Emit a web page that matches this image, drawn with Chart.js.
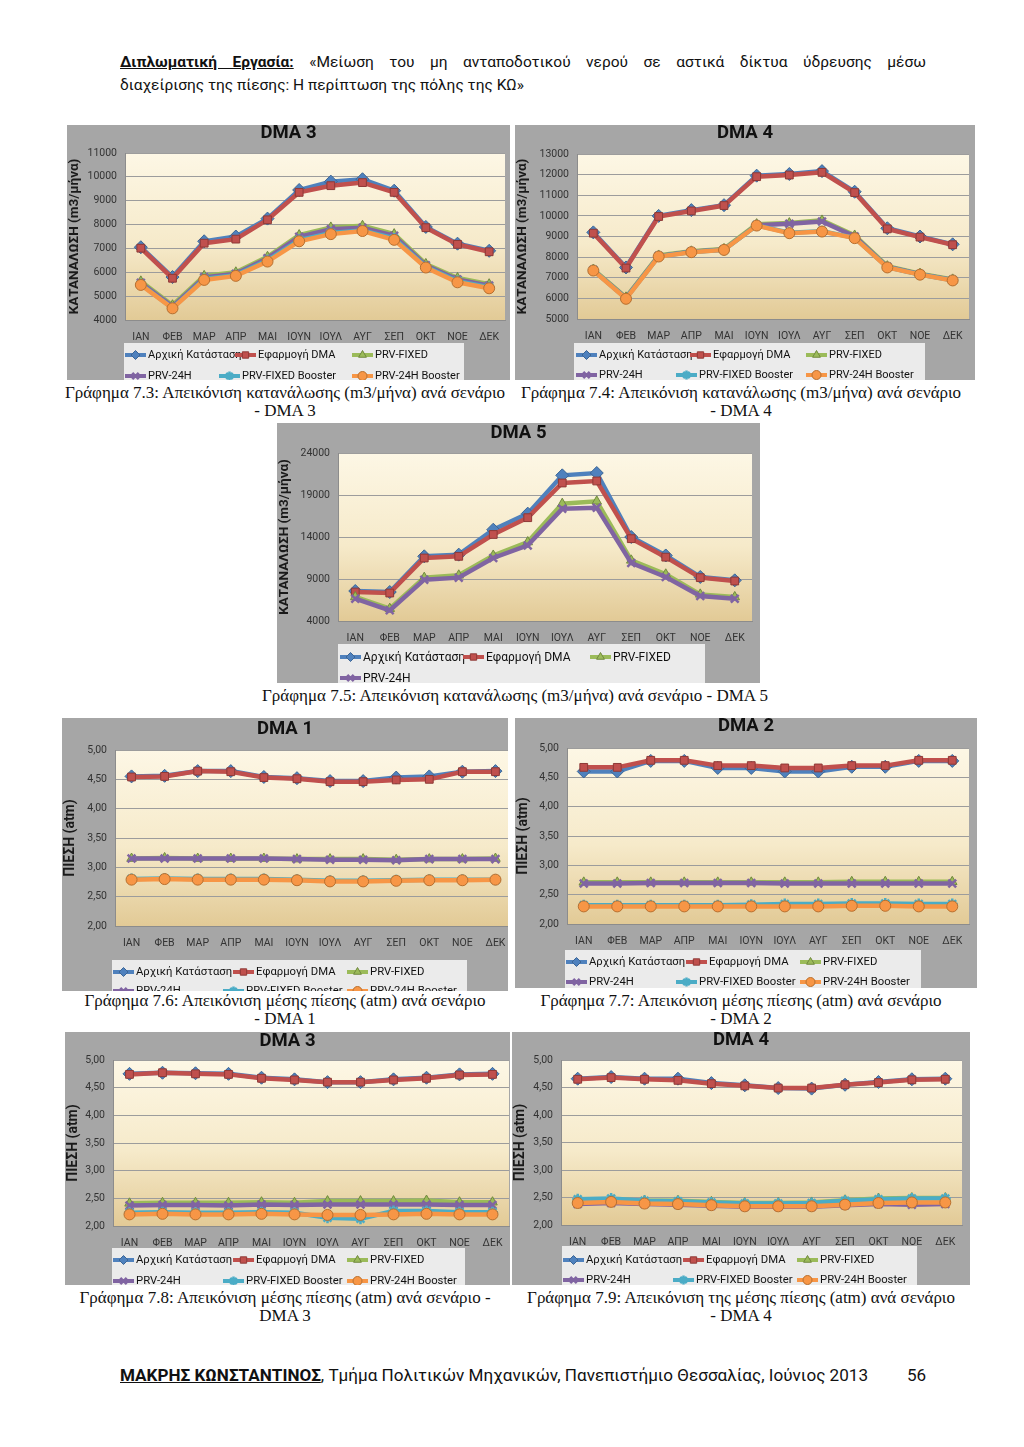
<!DOCTYPE html>
<html lang="el">
<head>
<meta charset="utf-8">
<script src="https://cdn.jsdelivr.net/npm/chart.js@4.4.1/dist/chart.umd.min.js"></script>
<style>
  body { margin: 0; background: #fff; }
  #page { position: relative; width: 1024px; height: 1447px; background: #fff; font-family: Roboto, 'Noto Sans', sans-serif; color: #111; overflow: hidden; }
  .box { position: absolute; overflow: hidden; background: #a6a6a6; }
  .box canvas { position: absolute; left: 0; top: 0; }
  .cap { position: absolute; font-family: 'Liberation Serif', 'DejaVu Serif', serif; font-size: 17px; line-height: 18px; text-align: center; white-space: nowrap; }
  .head { position: absolute; left: 120px; width: 806px; font-size: 15.5px; line-height: 23px; }
  .l1 { text-align: justify; text-align-last: justify; }
  .foot { position: absolute; top: 1365px; font-size: 17.1px; white-space: nowrap; }
</style>
</head>
<body>
<div id="page">
  <div class="head l1" style="top:51px"><b><u>Διπλωματική Εργασία:</u></b> «Μείωση του μη ανταποδοτικού νερού σε αστικά δίκτυα ύδρευσης μέσω</div>
  <div class="head" style="top:74px">διαχείρισης της πίεσης: Η περίπτωση της πόλης της ΚΩ»</div>

  <div class="cap" style="left:55px;width:460px;top:384px">Γράφημα 7.3: Απεικόνιση κατανάλωσης (m3/μήνα) ανά σενάριο<br>- DMA 3</div>
  <div class="cap" style="left:511px;width:460px;top:384px">Γράφημα 7.4: Απεικόνιση κατανάλωσης (m3/μήνα) ανά σενάριο<br>- DMA 4</div>
  <div class="cap" style="left:262px;width:500px;top:687px">Γράφημα 7.5: Απεικόνιση κατανάλωσης (m3/μήνα) ανά σενάριο - DMA 5</div>
  <div class="cap" style="left:55px;width:460px;top:992px">Γράφημα 7.6: Απεικόνιση μέσης πίεσης (atm) ανά σενάριο<br>- DMA 1</div>
  <div class="cap" style="left:511px;width:460px;top:992px">Γράφημα 7.7: Απεικόνιση μέσης πίεσης (atm) ανά σενάριο<br>- DMA 2</div>
  <div class="cap" style="left:55px;width:460px;top:1289px">Γράφημα 7.8: Απεικόνιση μέσης πίεσης (atm) ανά σενάριο -<br>DMA 3</div>
  <div class="cap" style="left:511px;width:460px;top:1289px">Γράφημα 7.9: Απεικόνιση της μέσης πίεσης (atm) ανά σενάριο<br>- DMA 4</div>

  <div class="foot" style="left:120px"><b><u>ΜΑΚΡΗΣ ΚΩΝΣΤΑΝΤΙΝΟΣ</u></b>, Τμήμα Πολιτικών Μηχανικών, Πανεπιστήμιο Θεσσαλίας, Ιούνιος 2013</div>
  <div class="foot" style="left:907px">56</div>
</div>

<script>
const months = ['ΙΑΝ', 'ΦΕΒ', 'ΜΑΡ', 'ΑΠΡ', 'ΜΑΙ', 'ΙΟΥΝ', 'ΙΟΥΛ', 'ΑΥΓ', 'ΣΕΠ', 'ΟΚΤ', 'ΝΟΕ', 'ΔΕΚ'];
const seriesNames = ['Αρχική Κατάσταση', 'Εφαρμογή DMA', 'PRV-FIXED', 'PRV-24H', 'PRV-FIXED Booster', 'PRV-24H Booster'];

// tick labels
const dma3ConsTicks = [4000, 5000, 6000, 7000, 8000, 9000, 10000, 11000];
const dma4ConsTicks = [5000, 6000, 7000, 8000, 9000, 10000, 11000, 12000, 13000];
const dma5ConsTicks = [4000, 9000, 14000, 19000, 24000];
const pressureTicks = [2.00, 2.50, 3.00, 3.50, 4.00, 4.50, 5.00];

// consumption (m3/month) - DMA 3
const dma3ConsInitial = [7050, 5800, 7300, 7500, 8250, 9450, 9800, 9900, 9420, 7900, 7200, 6900];
const dma3ConsDma = [7010, 5750, 7220, 7390, 8200, 9350, 9630, 9760, 9350, 7870, 7170, 6860];
const dma3ConsPrvFixed = [5620, 4620, 5850, 6000, 6650, 7560, 7880, 7950, 7600, 6350, 5760, 5500];
const dma3ConsPrv24h = [5560, 4560, 5790, 5940, 6590, 7490, 7800, 7870, 7530, 6290, 5700, 5440];
const dma3ConsFixedBooster = [5500, 4500, 5720, 5880, 6500, 7350, 7650, 7750, 7420, 6230, 5630, 5370];
const dma3Cons24hBooster = [5470, 4490, 5680, 5850, 6450, 7300, 7600, 7730, 7360, 6200, 5580, 5330];

// consumption - DMA 4
const dma4ConsInitial = [9200, 7500, 10000, 10280, 10520, 11950, 12030, 12170, 11170, 9400, 9000, 8620];
const dma4ConsDma = [9160, 7470, 9970, 10240, 10500, 11900, 11980, 12110, 11130, 9370, 8970, 8600];
const dma4ConsPrvFixed = [7400, 6050, 8080, 8280, 8400, 9600, 9650, 9780, 9050, 7560, 7200, 6920];
const dma4ConsPrv24h = [7370, 6020, 8050, 8260, 8370, 9550, 9620, 9730, 9000, 7530, 7170, 6890];
const dma4ConsFixedBooster = [7360, 6000, 8040, 8250, 8360, 9540, 9180, 9260, 8940, 7510, 7160, 6880];
const dma4Cons24hBooster = [7350, 5980, 8030, 8240, 8350, 9530, 9160, 9240, 8920, 7500, 7150, 6870];

// consumption - DMA 5 (four scenarios only)
const dma5ConsInitial = [7570, 7450, 11700, 11900, 14870, 16780, 21340, 21620, 14000, 11800, 9240, 8840];
const dma5ConsDma = [7450, 7330, 11500, 11700, 14300, 16300, 20430, 20670, 13800, 11600, 9160, 8760];
const dma5ConsPrvFixed = [6860, 5470, 9160, 9440, 11800, 13400, 17970, 18250, 11220, 9560, 7170, 6860];
const dma5ConsPrv24h = [6660, 5270, 8920, 9160, 11500, 13000, 17370, 17490, 10900, 9240, 6980, 6660];

// mean pressure (atm) - DMA 1
const dma1PresInitial = [4.55, 4.56, 4.64, 4.64, 4.54, 4.52, 4.47, 4.47, 4.53, 4.55, 4.63, 4.64];
const dma1PresDma = [4.54, 4.55, 4.64, 4.63, 4.53, 4.51, 4.46, 4.46, 4.49, 4.50, 4.63, 4.63];
const dma1PresPrvFixed = [3.15, 3.16, 3.15, 3.15, 3.15, 3.14, 3.14, 3.14, 3.13, 3.14, 3.14, 3.15];
const dma1PresPrv24h = [3.15, 3.15, 3.15, 3.15, 3.15, 3.14, 3.13, 3.13, 3.12, 3.14, 3.14, 3.14];
const dma1PresFixedBooster = [2.80, 2.81, 2.80, 2.80, 2.80, 2.79, 2.77, 2.77, 2.78, 2.79, 2.79, 2.79];
const dma1Pres24hBooster = [2.79, 2.80, 2.79, 2.79, 2.79, 2.78, 2.76, 2.76, 2.77, 2.78, 2.78, 2.79];

// mean pressure - DMA 2
const dma2PresInitial = [4.60, 4.60, 4.78, 4.78, 4.66, 4.66, 4.60, 4.60, 4.68, 4.68, 4.78, 4.78];
const dma2PresDma = [4.67, 4.67, 4.79, 4.79, 4.70, 4.70, 4.66, 4.66, 4.70, 4.70, 4.79, 4.79];
const dma2PresPrvFixed = [2.71, 2.71, 2.71, 2.71, 2.71, 2.71, 2.71, 2.71, 2.72, 2.72, 2.72, 2.72];
const dma2PresPrv24h = [2.69, 2.69, 2.70, 2.70, 2.70, 2.70, 2.69, 2.69, 2.69, 2.69, 2.69, 2.69];
const dma2PresFixedBooster = [2.32, 2.32, 2.32, 2.32, 2.32, 2.33, 2.34, 2.34, 2.35, 2.35, 2.34, 2.34];
const dma2Pres24hBooster = [2.30, 2.30, 2.30, 2.30, 2.30, 2.30, 2.30, 2.30, 2.31, 2.31, 2.30, 2.30];

// mean pressure - DMA 3
const dma3PresInitial = [4.75, 4.77, 4.76, 4.75, 4.68, 4.65, 4.60, 4.60, 4.65, 4.68, 4.74, 4.75];
const dma3PresDma = [4.74, 4.77, 4.75, 4.74, 4.67, 4.64, 4.60, 4.60, 4.64, 4.67, 4.73, 4.74];
const dma3PresPrvFixed = [2.41, 2.42, 2.42, 2.42, 2.43, 2.42, 2.45, 2.45, 2.45, 2.46, 2.43, 2.43];
const dma3PresPrv24h = [2.37, 2.38, 2.38, 2.37, 2.39, 2.38, 2.39, 2.39, 2.39, 2.39, 2.38, 2.38];
const dma3PresFixedBooster = [2.24, 2.25, 2.24, 2.24, 2.25, 2.24, 2.15, 2.13, 2.27, 2.27, 2.25, 2.25];
const dma3Pres24hBooster = [2.21, 2.22, 2.21, 2.21, 2.22, 2.21, 2.20, 2.20, 2.21, 2.22, 2.21, 2.21];

// mean pressure - DMA 4
const dma4PresInitial = [4.66, 4.69, 4.66, 4.66, 4.58, 4.54, 4.49, 4.48, 4.55, 4.60, 4.65, 4.66];
const dma4PresDma = [4.65, 4.68, 4.65, 4.63, 4.57, 4.53, 4.49, 4.49, 4.55, 4.59, 4.64, 4.65];
const dma4PresPrvFixed = [2.46, 2.47, 2.44, 2.44, 2.42, 2.40, 2.40, 2.41, 2.45, 2.48, 2.49, 2.49];
const dma4PresPrv24h = [2.38, 2.40, 2.38, 2.37, 2.35, 2.33, 2.33, 2.33, 2.36, 2.38, 2.37, 2.38];
const dma4PresFixedBooster = [2.47, 2.48, 2.44, 2.43, 2.41, 2.39, 2.39, 2.40, 2.44, 2.47, 2.48, 2.48];
const dma4Pres24hBooster = [2.40, 2.42, 2.39, 2.38, 2.36, 2.34, 2.34, 2.34, 2.37, 2.40, 2.41, 2.41];

// excel 2007 default series look
const seriesColors = ['#4F81BD', '#C0504D', '#9BBB59', '#8064A2', '#4BACC6', '#F79646'];
const seriesEdges = ['#3b6595', '#8e3936', '#71893f', '#8064A2', '#4BACC6', '#b8702f'];
const seriesPoints = ['rectRot', 'rect', 'triangle', 'crossRot', 'star', 'circle'];

Chart.defaults.font.family = "Roboto, 'Noto Sans', sans-serif";

const pressureCols = [[1, 121, 235], [1, 111, 235]];

function decoPlugin(cfg) {
    return {
        id: 'deco',
        beforeDraw(chart) {
            const ctx = chart.ctx;
            const a = chart.chartArea;
            ctx.save();
            const g = ctx.createLinearGradient(0, a.top, 0, a.bottom);
            g.addColorStop(0, '#fdf7e5');
            g.addColorStop(0.55, '#f6eaca');
            g.addColorStop(1, '#e2ca96');
            ctx.fillStyle = g;
            ctx.fillRect(a.left, a.top, a.right - a.left, a.bottom - a.top);
            ctx.restore();
        },
        afterDraw(chart) {
            const ctx = chart.ctx;
            const bx = cfg.box[0], by = cfg.box[1];
            ctx.save();
            // title
            ctx.font = "bold 18.5px Roboto, 'Noto Sans', sans-serif";
            ctx.fillStyle = '#111';
            ctx.textAlign = 'center';
            ctx.textBaseline = 'middle';
            ctx.fillText(cfg.title, cfg.box[2] / 2, cfg.titleY - by);

            // legend box
            const L = cfg.legend;
            ctx.fillStyle = '#ebebeb';
            ctx.fillRect(L.left - bx, L.top - by, L.right - L.left, chart.height);
            chart.data.datasets.forEach(function (ds, i) {
                const row = Math.floor(i / 3), col = i % 3;
                const x = L.left - bx + L.cols[row][col];
                const y = L.rows[row] - by;
                ctx.strokeStyle = ds.borderColor;
                ctx.lineWidth = 4;
                ctx.beginPath();
                ctx.moveTo(x, y);
                ctx.lineTo(x + 21, y);
                ctx.stroke();
                ctx.fillStyle = ds.pointBackgroundColor;
                ctx.strokeStyle = ds.pointBorderColor;
                ctx.lineWidth = ds.pointBorderWidth;
                Chart.helpers.drawPoint(ctx, {
                    pointStyle: ds.pointStyle, radius: 4.5, rotation: 0, borderWidth: ds.pointBorderWidth
                }, x + 10.5, y);
                ctx.fillStyle = '#111';
                ctx.font = L.font + "px Roboto, 'Noto Sans', sans-serif";
                ctx.textAlign = 'left';
                ctx.fillText(ds.label, x + 23, y + 0.5);
            });
            ctx.restore();
        }
    };
}

function drawChart(cfg) {
    const [bl, bt, bw, bh] = cfg.box;
    const [pl, pt, pr, pb] = cfg.plot;
    const canvasW = Math.max(bw, pr - bl);
    const canvasH = bh + 12;
    const xAxisH = 30;

    const box = document.createElement('div');
    box.className = 'box';
    box.style.left = bl + 'px';
    box.style.top = bt + 'px';
    box.style.width = bw + 'px';
    box.style.height = bh + 'px';
    const canvas = document.createElement('canvas');
    canvas.width = canvasW;
    canvas.height = canvasH;
    box.appendChild(canvas);
    document.getElementById('page').appendChild(box);

    const ticks = cfg.ticks;
    const n = cfg.series.length;

    new Chart(canvas, {
        type: 'line',
        data: {
            labels: months,
            datasets: cfg.series.map(function (d, i) {
                const crossLike = (i === 3 || i === 4);
                return {
                    label: seriesNames[i],
                    data: d,
                    borderColor: seriesColors[i],
                    backgroundColor: seriesColors[i],
                    borderWidth: 4.5,
                    tension: 0,
                    pointStyle: seriesPoints[i],
                    pointRadius: i === 0 ? 6.5 : 5.5,
                    pointBackgroundColor: seriesColors[i],
                    pointBorderColor: seriesEdges[i],
                    pointBorderWidth: crossLike ? 2.5 : 1,
                    order: n - i
                };
            })
        },
        options: {
            responsive: false,
            animation: false,
            layout: {
                padding: {
                    left: 0,
                    top: pt - bt,
                    right: canvasW - (pr - bl),
                    bottom: canvasH - (pb - bt) - xAxisH
                }
            },
            plugins: {
                legend: { display: false },
                title: { display: false },
                tooltip: { enabled: false }
            },
            scales: {
                x: {
                    offset: true,
                    grid: { display: false, drawTicks: false },
                    border: { color: '#8c8c8c' },
                    ticks: { color: '#333', font: { size: 10.5 }, padding: 11, maxRotation: 0, autoSkip: false },
                    afterFit: function (s) { s.height = xAxisH; }
                },
                y: {
                    min: ticks[0],
                    max: ticks[ticks.length - 1],
                    ticks: {
                        stepSize: ticks[1] - ticks[0],
                        color: '#333',
                        font: { size: 10.5 },
                        padding: 8,
                        callback: function (v) {
                            return cfg.comma ? v.toFixed(2).replace('.', ',') : String(v);
                        }
                    },
                    grid: { color: '#9c9c9c', drawTicks: false },
                    border: { display: true, color: '#8c8c8c' },
                    title: {
                        display: true,
                        text: cfg.yTitle,
                        color: '#1a1a1a',
                        font: { size: cfg.comma ? 14 : 13.5, weight: 'bold' },
                        padding: 0
                    },
                    afterFit: function (s) { s.width = pl - bl; }
                }
            }
        },
        plugins: [decoPlugin(cfg)]
    });
}

const consTitle = 'ΚΑΤΑΝΑΛΩΣΗ (m3/μήνα)';
const presTitle = 'ΠΙΕΣΗ (atm)';

drawChart({
    box: [67, 125, 443, 255], plot: [125, 153, 513, 320], title: 'DMA 3', titleY: 133,
    yTitle: consTitle, ticks: dma3ConsTicks, comma: false,
    series: [dma3ConsInitial, dma3ConsDma, dma3ConsPrvFixed, dma3ConsPrv24h, dma3ConsFixedBooster, dma3Cons24hBooster],
    legend: { left: 124, top: 343, right: 464, rows: [355, 376], cols: [[1, 111, 228], [1, 95, 228]], font: 11 }
});
drawChart({
    box: [515, 125, 460, 255], plot: [577, 154, 977, 319], title: 'DMA 4', titleY: 133,
    yTitle: consTitle, ticks: dma4ConsTicks, comma: false,
    series: [dma4ConsInitial, dma4ConsDma, dma4ConsPrvFixed, dma4ConsPrv24h, dma4ConsFixedBooster, dma4Cons24hBooster],
    legend: { left: 574, top: 343, right: 925, rows: [355, 375], cols: [[2, 116, 232], [2, 102, 232]], font: 11 }
});
drawChart({
    box: [277, 423, 483, 260], plot: [338, 453, 760, 621], title: 'DMA 5', titleY: 433,
    yTitle: consTitle, ticks: dma5ConsTicks, comma: false,
    series: [dma5ConsInitial, dma5ConsDma, dma5ConsPrvFixed, dma5ConsPrv24h],
    legend: { left: 338, top: 644, right: 705, rows: [657, 678], cols: [[2, 125, 252], [2]], font: 12 }
});
drawChart({
    box: [62, 718, 446, 273], plot: [115, 750, 520, 926], title: 'DMA 1', titleY: 729,
    yTitle: presTitle, ticks: pressureTicks, comma: true,
    series: [dma1PresInitial, dma1PresDma, dma1PresPrvFixed, dma1PresPrv24h, dma1PresFixedBooster, dma1Pres24hBooster],
    legend: { left: 112, top: 960, right: 467, rows: [972, 991], cols: pressureCols, font: 11.3 }
});
drawChart({
    box: [515, 718, 462, 270], plot: [567, 748, 977, 924], title: 'DMA 2', titleY: 726,
    yTitle: presTitle, ticks: pressureTicks, comma: true,
    series: [dma2PresInitial, dma2PresDma, dma2PresPrvFixed, dma2PresPrv24h, dma2PresFixedBooster, dma2Pres24hBooster],
    legend: { left: 565, top: 950, right: 921, rows: [962, 982], cols: pressureCols, font: 11.3 }
});
drawChart({
    box: [65, 1032, 445, 253], plot: [113, 1060, 517, 1226], title: 'DMA 3', titleY: 1041,
    yTitle: presTitle, ticks: pressureTicks, comma: true,
    series: [dma3PresInitial, dma3PresDma, dma3PresPrvFixed, dma3PresPrv24h, dma3PresFixedBooster, dma3Pres24hBooster],
    legend: { left: 112, top: 1248, right: 465, rows: [1260, 1281], cols: pressureCols, font: 11.3 }
});
drawChart({
    box: [512, 1032, 458, 253], plot: [561, 1060, 970, 1225], title: 'DMA 4', titleY: 1040,
    yTitle: presTitle, ticks: pressureTicks, comma: true,
    series: [dma4PresInitial, dma4PresDma, dma4PresPrvFixed, dma4PresPrv24h, dma4PresFixedBooster, dma4Pres24hBooster],
    legend: { left: 562, top: 1246, right: 917, rows: [1260, 1280], cols: pressureCols, font: 11.3 }
});
</script>
</body>
</html>
